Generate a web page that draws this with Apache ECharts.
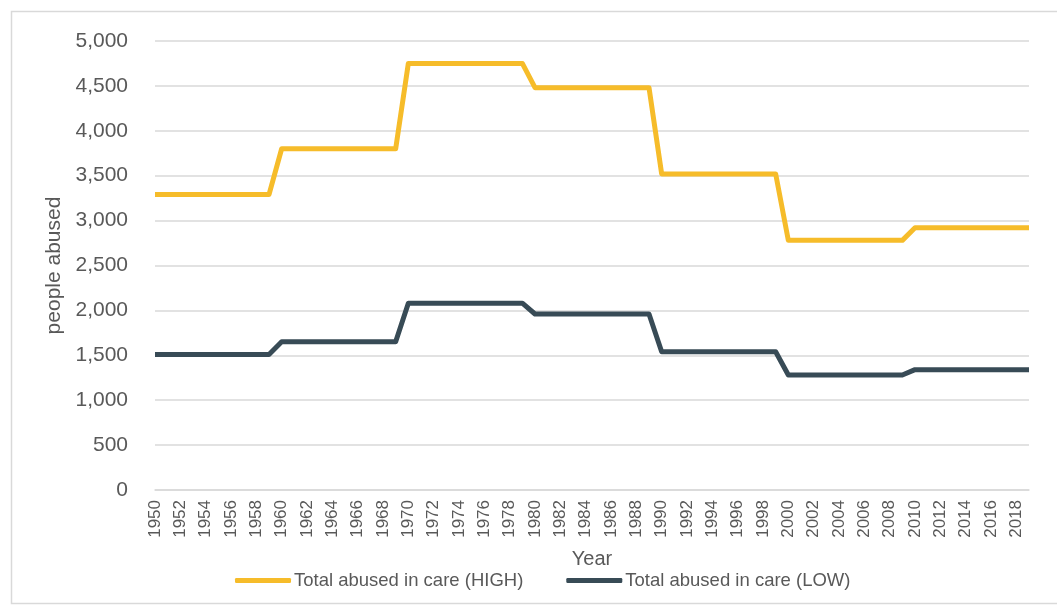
<!DOCTYPE html>
<html>
<head>
<meta charset="utf-8">
<script src="https://cdn.jsdelivr.net/npm/echarts@6/dist/echarts.min.js"></script>
<style>
  html, body { margin: 0; padding: 0; background: #ffffff; }
  #chart { width: 1057px; height: 609px; }
</style>
</head>
<body>
<div id="chart"></div>
<script>
// Years 1950–2019
const years = [];
for (let y = 1950; y <= 2019; y++) years.push(String(y));

// Estimated number of people abused in care, per year
const highValues = [
  3290, 3290, 3290, 3290, 3290, 3290, 3290, 3290, 3290, 3290,
  3800, 3800, 3800, 3800, 3800, 3800, 3800, 3800, 3800, 3800,
  4750, 4750, 4750, 4750, 4750, 4750, 4750, 4750, 4750, 4750,
  4480, 4480, 4480, 4480, 4480, 4480, 4480, 4480, 4480, 4480,
  3520, 3520, 3520, 3520, 3520, 3520, 3520, 3520, 3520, 3520,
  2780, 2780, 2780, 2780, 2780, 2780, 2780, 2780, 2780, 2780,
  2920, 2920, 2920, 2920, 2920, 2920, 2920, 2920, 2920, 2920
];
const lowValues = [
  1510, 1510, 1510, 1510, 1510, 1510, 1510, 1510, 1510, 1510,
  1650, 1650, 1650, 1650, 1650, 1650, 1650, 1650, 1650, 1650,
  2080, 2080, 2080, 2080, 2080, 2080, 2080, 2080, 2080, 2080,
  1960, 1960, 1960, 1960, 1960, 1960, 1960, 1960, 1960, 1960,
  1540, 1540, 1540, 1540, 1540, 1540, 1540, 1540, 1540, 1540,
  1280, 1280, 1280, 1280, 1280, 1280, 1280, 1280, 1280, 1280,
  1340, 1340, 1340, 1340, 1340, 1340, 1340, 1340, 1340, 1340
];

const seriesNames = ['Total abused in care (HIGH)', 'Total abused in care (LOW)'];
const textColor = '#595959';
const font = 'Liberation Sans, Arial, sans-serif';

const chart = echarts.init(document.getElementById('chart'), null, { renderer: 'canvas' });
chart.setOption({
  backgroundColor: '#ffffff',
  animation: false,
  graphic: [{
    type: 'rect',
    shape: { x: 11.5, y: 11.5, width: 1060, height: 592 },
    style: { fill: 'none', stroke: '#d9d9d9', lineWidth: 1.5 },
    silent: true
  }],
  grid: { left: 155, right: 28, top: 41, bottom: 119 },
  legend: {
    data: seriesNames,
    top: 566,
    left: 230,
    itemWidth: 56,
    itemHeight: 5,
    itemGap: 43,
    icon: 'roundRect',
    textStyle: { color: textColor, fontSize: 18.5, fontFamily: font, padding: [0, 0, 0, -2] }
  },
  xAxis: {
    type: 'category',
    data: years,
    boundaryGap: false,
    name: 'Year',
    nameLocation: 'middle',
    nameGap: 59,
    nameTextStyle: { color: textColor, fontSize: 20, fontFamily: font },
    axisLine: { lineStyle: { color: '#d9d9d9', width: 1.5 } },
    axisTick: { show: false },
    axisLabel: {
      interval: 1,
      rotate: 90,
      color: textColor,
      fontSize: 17,
      fontFamily: font,
      margin: 10
    }
  },
  yAxis: {
    type: 'value',
    min: 0,
    max: 5000,
    interval: 500,
    name: 'people abused',
    nameLocation: 'middle',
    nameGap: 89,
    nameTextStyle: { color: textColor, fontSize: 21, fontFamily: font },
    axisLine: { show: false },
    axisTick: { show: false },
    splitLine: { lineStyle: { color: '#d9d9d9', width: 1.5 } },
    axisLabel: {
      color: textColor,
      fontSize: 21,
      fontFamily: font,
      margin: 27,
      formatter: v => v.toLocaleString('en-US')
    }
  },
  series: [
    {
      name: seriesNames[0],
      type: 'line',
      data: highValues,
      symbol: 'none',
      color: '#F6BC2A',
      lineStyle: { width: 5, color: '#F6BC2A', join: 'round' }
    },
    {
      name: seriesNames[1],
      type: 'line',
      data: lowValues,
      symbol: 'none',
      color: '#384B56',
      lineStyle: { width: 5, color: '#384B56', join: 'round' }
    }
  ]
});
</script>
</body>
</html>
